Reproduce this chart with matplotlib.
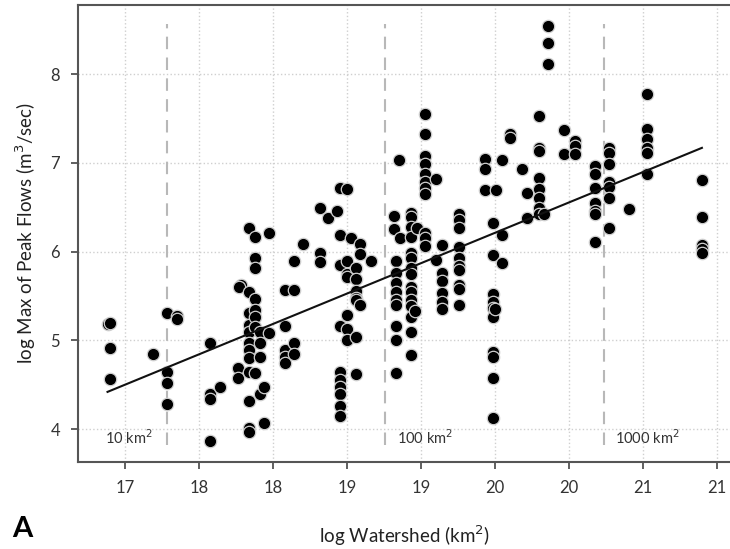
import matplotlib
matplotlib.use("Agg")
import matplotlib.pyplot as plt
import numpy as np

plt.rcParams['font.family'] = ['Lato', 'DejaVu Sans']

# data (log units)
log_watershed = [
    16.88, 16.90, 16.90, 16.90,
    17.19,
    17.28, 17.28, 17.28, 17.28,
    17.35, 17.35,
    17.57, 17.57, 17.57, 17.57,
    17.64,
    17.78, 17.77, 17.76, 17.76,
    17.84, 17.84, 17.84, 17.84, 17.84, 17.84, 17.84, 17.84, 17.84, 17.84, 17.84, 17.84,
    17.88, 17.88, 17.88, 17.88, 17.88, 17.88, 17.88, 17.88,
    17.91, 17.91, 17.91, 17.91,
    17.94, 17.94,
    17.97, 17.97,
    18.08, 18.08, 18.08, 18.08, 18.08,
    18.14, 18.14, 18.14, 18.14,
    18.20,
    18.32, 18.32, 18.32,
    18.37, 18.43,
    18.45, 18.45, 18.45, 18.45, 18.45, 18.45, 18.45, 18.45, 18.45, 18.45,
    18.50, 18.50, 18.50, 18.50, 18.50, 18.50, 18.50,
    18.53,
    18.56, 18.56, 18.56, 18.56, 18.56, 18.56, 18.56,
    18.59, 18.59, 18.59,
    18.66,
    18.82, 18.82, 18.86,
    18.83, 18.83, 18.83, 18.83, 18.83, 18.83, 18.83, 18.83, 18.83,
    18.85,
    18.93, 18.93, 18.93, 18.93, 18.93, 18.93, 18.93, 18.93, 18.93, 18.93,
    18.93, 18.93, 18.93, 18.93, 18.93,
    18.97, 18.96,
    19.03, 19.03, 19.03, 19.03, 19.03, 19.03, 19.03, 19.03, 19.03, 19.03, 19.03,
    19.10, 19.10,
    19.14, 19.14, 19.14, 19.14, 19.14, 19.14,
    19.26, 19.26, 19.26, 19.26, 19.26, 19.26, 19.26, 19.26, 19.26, 19.26,
    19.43, 19.43, 19.43,
    19.51,
    19.49, 19.49, 19.49, 19.49, 19.49, 19.49, 19.49, 19.49, 19.49, 19.49,
    19.50,
    19.55, 19.55, 19.55,
    19.60, 19.60,
    19.68,
    19.72, 19.72,
    19.80, 19.80, 19.80, 19.80, 19.80, 19.80, 19.80, 19.80,
    19.83,
    19.86, 19.86, 19.86,
    19.97, 19.97,
    20.04, 20.04, 20.04,
    20.18, 20.18, 20.18, 20.18, 20.18, 20.18, 20.18,
    20.27, 20.27, 20.27, 20.27, 20.27, 20.27, 20.27,
    20.41,
    20.53, 20.53, 20.53, 20.53, 20.53, 20.53,
    20.90, 20.90, 20.90, 20.90, 20.90,
]
log_peak = [
    5.19, 5.20, 4.92, 4.57,
    4.85,
    5.31, 4.64, 4.52, 4.28,
    5.28, 5.24,
    4.97, 4.40, 4.34, 3.87,
    4.48,
    5.63, 5.60, 4.69, 4.58,
    6.27, 5.54, 5.31, 5.17, 5.09, 4.97, 4.89, 4.80, 4.64, 4.32, 4.01, 3.97,
    6.17, 5.93, 5.82, 5.47, 5.34, 5.26, 5.15, 4.63,
    5.09, 4.97, 4.81, 4.40,
    4.48, 4.07,
    6.21, 5.08,
    5.57, 5.16, 4.89, 4.81, 4.75,
    5.89, 5.57, 4.97, 4.85,
    6.09,
    6.49, 5.99, 5.88,
    6.38, 6.46,
    6.72, 6.19, 5.85, 5.16, 4.64, 4.55, 4.47, 4.40, 4.26, 4.15,
    6.71, 5.90, 5.75, 5.71, 5.29, 5.13, 5.00,
    6.15,
    5.82, 5.69, 5.56, 5.48, 5.45, 5.04, 4.62,
    6.09, 5.97, 5.40,
    5.90,
    6.40, 6.25, 6.15,
    5.90, 5.76, 5.65, 5.54, 5.45, 5.40, 5.16, 5.01, 4.63,
    7.03,
    6.44, 6.39, 6.28, 6.16, 5.99, 5.93, 5.82, 5.75, 5.60, 5.55,
    5.45, 5.39, 5.26, 5.09, 4.84,
    6.27, 5.33,
    7.55, 7.33, 7.08, 6.99, 6.88, 6.78, 6.72, 6.65, 6.21, 6.15, 6.06,
    6.82, 5.91,
    6.07, 5.76, 5.67, 5.53, 5.43, 5.35,
    6.43, 6.36, 6.27, 6.05, 5.93, 5.84, 5.79, 5.63, 5.58, 5.40,
    7.05, 6.93, 6.70,
    6.70,
    6.32, 5.96, 5.52, 5.43, 5.37, 5.26, 4.87, 4.81, 4.58, 4.13,
    5.35,
    7.03, 6.19, 5.87,
    7.33, 7.28,
    6.93,
    6.66, 6.38,
    7.53, 7.17, 7.14, 6.83, 6.71, 6.61, 6.49, 6.43,
    6.43,
    8.54, 8.35, 8.11,
    7.37, 7.10,
    7.25, 7.19, 7.10,
    6.96, 6.88, 6.72, 6.55, 6.46, 6.42, 6.11,
    7.17, 7.11, 6.99, 6.78, 6.73, 6.60, 6.27,
    6.48,
    7.78, 7.38, 7.27, 7.17, 7.11, 6.87,
    6.81, 6.39, 6.08, 6.03, 5.99,
]

fit_x = [16.88, 20.90]
fit_y = [4.42, 7.17]

area_x = [17.28, 18.757, 20.235]
area_labels = ['10 km$^2$', '100 km$^2$', '1000 km$^2$']
label_x = [16.865, 18.84, 20.31]

xtick_pos = [17, 17.5, 18, 18.5, 19, 19.5, 20, 20.5, 21]
xtick_labels = ['17', '18', '18', '19', '19', '20', '20', '21', '21']
ytick_pos = [4, 5, 6, 7, 8]

fig = plt.figure(figsize=(7.3, 5.49), dpi=100)
ax = fig.add_axes([0.1068, 0.1585, 0.8932, 0.8324])

ax.grid(True, linestyle=':', color='#cfcfcf', linewidth=1.0)
ax.set_axisbelow(True)

ax.vlines(area_x, 3.82, 8.57, colors='#b8b8b8', linestyles=(0, (6, 4)), linewidth=1.5)
for lx, lab in zip(label_x, area_labels):
    ax.text(lx, 3.9, lab, fontsize=10.5, color='#333333', va='center', ha='left')

ax.scatter(log_watershed, log_peak, s=80, c='black', edgecolors='#d0d0d0',
           linewidths=0.9, zorder=3)
ax.plot(fit_x, fit_y, color='#111111', linewidth=1.5, zorder=4)

ax.set_xlim(16.68, 21.09)
ax.set_ylim(3.63, 8.78)
ax.set_xticks(xtick_pos)
ax.set_xticklabels(xtick_labels)
ax.set_yticks(ytick_pos)
ax.tick_params(axis='both', labelsize=12, colors='#444444', labelcolor='#333333',
               length=5, width=1.2, pad=8)

for side in ['left', 'bottom', 'top']:
    ax.spines[side].set_color('#555555')
    ax.spines[side].set_linewidth(1.5)
ax.spines['right'].set_visible(False)

ax.set_xlabel('log Watershed (km$^2$)', fontsize=13.5, color='#222222', labelpad=20)
ax.set_ylabel('log Max of Peak Flows (m$^3$/sec)', fontsize=13.5, color='#222222',
              labelpad=9)

fig.text(0.016, 0.022, 'A', fontsize=21, fontweight='bold', color='black')

fig.savefig('out.png', dpi=100)
